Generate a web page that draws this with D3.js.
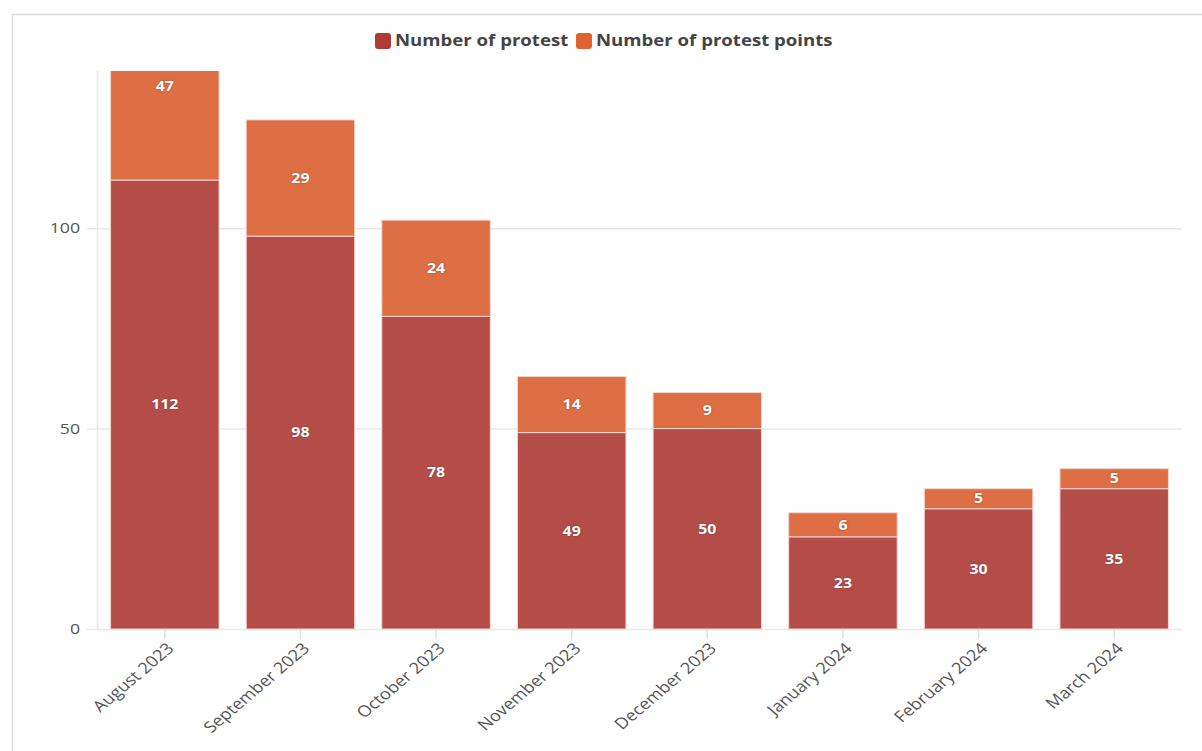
<!DOCTYPE html>
<html><head><meta charset="utf-8">
<script src="https://cdn.jsdelivr.net/npm/d3@7"></script>
<style>
html,body{margin:0;padding:0;background:#fff;}
svg{display:block;font-family:"Open Sans",sans-serif;}
</style></head>
<body>
<script>
const months = ["August 2023","September 2023","October 2023","November 2023","December 2023","January 2024","February 2024","March 2024"];
const protests = [112,98,78,49,50,23,30,35];
const protestPoints = [47,29,24,14,9,6,5,5];
const yTicks = [0,50,100];
const seriesNames = ["Number of protest","Number of protest points"];
const barColors = ["#b44d48","#de6e43"];
const legendColors = ["#b13a35","#e0622e"];

(function(){
const W=1202,H=751;
const SX=1.18; // horizontal stretch seen in reference text
const svg=d3.select("body").append("svg").attr("width",W).attr("height",H);

// card border
svg.append("path").attr("d",`M12.5,${H} L12.5,14.5 L${W},14.5`).attr("fill","none").attr("stroke","#dcdcdc").attr("stroke-width",1.5);

const pL=97,pR=1182,pT=71,pB=629;
const x=d3.scaleBand().domain(months).range([pL,pR]).paddingInner(0.2).paddingOuter(0.1);
const y=d3.scaleLinear().domain([0,139.2]).range([pB,pT]);

// gridlines
svg.append("g").selectAll("line").data(yTicks).join("line")
  .attr("x1",pL-10).attr("x2",pR).attr("y1",d=>y(d)+0.5).attr("y2",d=>y(d)+0.5)
  .attr("stroke","#e8e8e8").attr("stroke-width",1.5);
// y axis line
svg.append("line").attr("x1",pL+0.5).attr("x2",pL+0.5).attr("y1",pT).attr("y2",pB)
  .attr("stroke","#e8e8e8").attr("stroke-width",1.5);

// y tick labels
const yAxis=d3.axisLeft(y).tickValues(yTicks).tickSize(0).tickPadding(0);
const gy=svg.append("g").attr("transform",`translate(${pL-17},0)`).call(yAxis);
gy.select(".domain").remove();
gy.selectAll("text").attr("font-size",15).attr("fill","#555").attr("font-family","'Open Sans',sans-serif")
  .attr("transform",`scale(${SX},1)`).attr("x",0);
gy.selectAll(".tick").each(function(){
  const t=d3.select(this).select("text");
  t.attr("transform",`scale(${SX},1)`);
});

// x axis
const xAxis=d3.axisBottom(x).tickSize(10).tickPadding(4);
const gx=svg.append("g").attr("transform",`translate(0,${pB})`).call(xAxis);
gx.select(".domain").remove();
gx.selectAll("line").attr("stroke","#e2e2e2").attr("stroke-width",1.5);
gx.selectAll("text").attr("font-size",15.5).attr("fill","#555").attr("font-family","'Open Sans',sans-serif")
  .attr("text-anchor","end").attr("x",0).attr("y",0).attr("dx","-0.1em").attr("dy","0.5em")
  .attr("transform",`translate(5,14) scale(${SX},1) rotate(-45)`);

// bars
svg.append("clipPath").attr("id","plotclip").append("rect").attr("x",pL).attr("y",pT).attr("width",pR-pL).attr("height",pB-pT+2);
const stackData=months.map((m,i)=>({month:m,p:protests[i],pp:protestPoints[i]}));
const stack=d3.stack().keys(["p","pp"])(stackData);
const gb=svg.append("g").attr("clip-path","url(#plotclip)");
stack.forEach((layer,li)=>{
  gb.append("g").selectAll("rect").data(layer).join("rect")
    .attr("x",d=>x(d.data.month)).attr("width",x.bandwidth())
    .attr("y",d=>y(d[1])).attr("height",d=>y(d[0])-y(d[1]))
    .attr("fill",barColors[li]).attr("stroke","#f3d6d2").attr("stroke-width",1);
});
// labels
stack.forEach((layer,li)=>{
  svg.append("g").selectAll("text").data(layer).join("text")
    .attr("transform",d=>`translate(${x(d.data.month)+x.bandwidth()/2},${(y(d[0])+y(d[1]))/2}) scale(${SX},1)`)
    .attr("dy","0.35em").attr("text-anchor","middle")
    .attr("font-size",13.5).attr("font-weight",700).attr("fill","#fff")
    .style("text-shadow","0 0 2px rgba(0,0,0,0.35)")
    .text(d=>d[1]-d[0]);
});

// legend
const lg=svg.append("g").attr("transform","translate(0,41)");
const items=[{x:375,name:seriesNames[0],c:legendColors[0]},{x:576,name:seriesNames[1],c:legendColors[1]}];
items.forEach(it=>{
  lg.append("rect").attr("x",it.x).attr("y",-8).attr("width",16).attr("height",16).attr("rx",3).attr("fill",it.c);
  lg.append("text").attr("transform",`translate(${it.x+20},0) scale(1.2,1)`).attr("dy","0.35em")
    .attr("font-size",15.5).attr("font-weight",700).attr("fill","#444").text(it.name);
});
})();
</script>
</body></html>
